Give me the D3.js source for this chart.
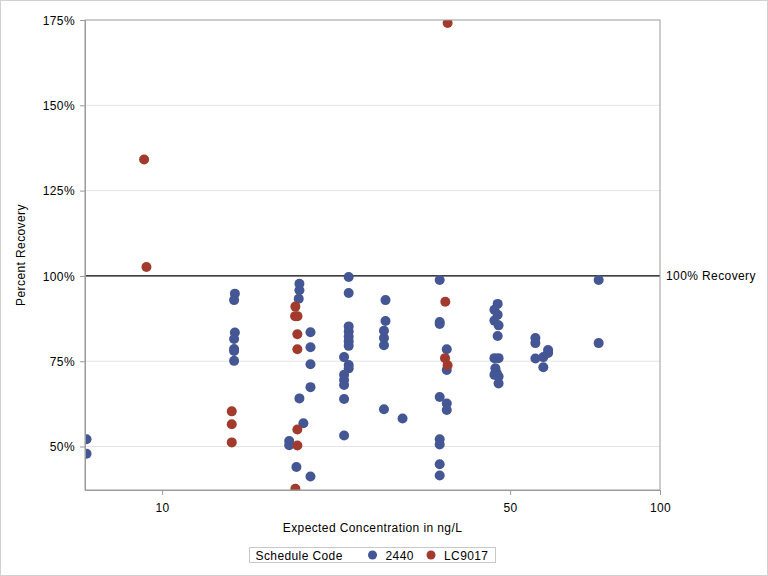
<!DOCTYPE html>
<html>
<head>
<meta charset="utf-8">
<script src="https://cdn.jsdelivr.net/npm/d3@7"></script>
<style>
  body { margin: 0; background: #fff; }
  svg text { font-family: "Liberation Sans", Arial, sans-serif; fill: #000; letter-spacing: 0.4px; }
</style>
</head>
<body>
<svg id="chart" width="768" height="576"></svg>
<script>
// schedule 2440
const conc2440 = [7.05, 7.05,
  14.0, 13.95, 14.0, 13.95, 13.95, 13.95, 13.95,
  18.87, 18.87, 18.81, 19.86, 19.86, 19.86, 19.86, 18.87, 19.22, 18.0, 18.0, 18.61, 19.86,
  23.7, 23.7, 23.7, 23.7, 23.7, 23.7, 23.7, 23.2, 23.7, 23.7, 23.2, 23.2, 23.2, 23.2, 23.2,
  28.1, 28.1, 27.9, 27.9, 27.9, 27.9, 30.4,
  36.1, 36.1, 36.1, 37.3, 37.3, 36.1, 37.3, 37.3, 36.1, 36.1, 36.1, 36.1,
  47.2, 46.5, 47.2, 46.5, 47.4, 47.2, 46.5, 47.4, 46.7, 47.0, 46.5, 47.4, 47.4,
  56.2, 56.2, 59.6, 59.6, 58.3, 56.2, 58.3, 75.3, 75.3];
const rec2440 = [52.1, 47.9,
  94.8, 92.9, 83.4, 81.5, 78.6, 78.0, 75.1,
  97.7, 95.8, 93.3, 83.5, 79.1, 74.1, 67.4, 64.1, 56.8, 51.6, 50.4, 44.0, 41.2,
  99.7, 95.0, 85.2, 83.7, 82.2, 80.8, 79.5, 76.2, 73.9, 72.9, 71.0, 69.5, 68.0, 63.9, 53.2,
  92.9, 86.8, 83.9, 81.8, 79.7, 60.9, 58.2,
  98.8, 86.5, 85.9, 78.5, 72.4, 64.5, 62.6, 60.7, 52.1, 50.6, 44.8, 41.5,
  91.8, 90.1, 88.6, 86.9, 85.5, 82.4, 75.9, 75.9, 72.9, 71.5, 71.0, 70.5, 68.5,
  81.8, 80.3, 78.3, 77.4, 76.2, 75.8, 73.2, 98.8, 80.3];

// schedule LC9017
const concLC = [9.2, 9.3, 13.8, 13.8, 13.8,
  18.52, 18.5, 18.7, 18.69, 18.69, 18.69, 18.69, 18.52,
  37.05, 37.0, 37.45, 37.45];
const recLC = [134.1, 102.6, 60.3, 56.5, 51.2,
  91.0, 88.2, 88.2, 82.9, 78.5, 55.0, 50.3, 37.6,
  92.4, 75.9, 73.8, 174.1];

const xTicks = [10, 50, 100];
const yTicks = [50, 75, 100, 125, 150, 175];
const refValue = 100;

const colors = {"2440": "#445694", "LC9017": "#A23A2E"};

let margin = {left: 85, right: 108, top: 20, bottom: 86};
let w = 768, h = 576;
let svg = d3.select('#chart');

// outer border
svg.append('rect')
  .attr('x', 0.5).attr('y', 0.5)
  .attr('width', w - 1).attr('height', h - 1)
  .attr('fill', 'none').attr('stroke', '#d0d0d0');

let x = d3.scaleLog().domain([7, 100]).range([margin.left, w - margin.right]);
let y = d3.scaleLinear().domain([37.25, 175]).range([h - margin.bottom, margin.top]);

// grid lines
svg.append('g').selectAll('line')
  .data(yTicks.filter(d => d !== refValue && d !== 175))
  .enter().append('line')
  .attr('x1', margin.left).attr('x2', w - margin.right)
  .attr('y1', d => y(d)).attr('y2', d => y(d))
  .attr('stroke', '#e4e4e4');

// reference line
svg.append('line')
  .attr('x1', margin.left).attr('x2', w - margin.right)
  .attr('y1', y(refValue)).attr('y2', y(refValue))
  .attr('stroke', '#000').attr('stroke-width', 1.2);
svg.append('text')
  .attr('x', w - margin.right + 6).attr('y', y(refValue) + 4.5)
  .attr('font-size', 12)
  .text('100% Recovery');

// points, clipped to the plot area
svg.append('clipPath').attr('id', 'plotclip')
  .append('rect')
  .attr('x', margin.left).attr('y', margin.top)
  .attr('width', w - margin.left - margin.right)
  .attr('height', h - margin.top - margin.bottom);

let pts = svg.append('g').attr('clip-path', 'url(#plotclip)');
pts.selectAll('.p2440')
  .data(conc2440.map((c, i) => [c, rec2440[i]]))
  .enter().append('circle')
  .attr('class', 'p2440')
  .attr('cx', d => x(d[0])).attr('cy', d => y(d[1]))
  .attr('r', 5)
  .attr('fill', colors["2440"]);
pts.selectAll('.pLC')
  .data(concLC.map((c, i) => [c, recLC[i]]))
  .enter().append('circle')
  .attr('class', 'pLC')
  .attr('cx', d => x(d[0])).attr('cy', d => y(d[1]))
  .attr('r', 5)
  .attr('fill', colors["LC9017"]);

// frame
svg.append('rect')
  .attr('x', margin.left).attr('y', margin.top)
  .attr('width', w - margin.left - margin.right)
  .attr('height', h - margin.top - margin.bottom)
  .attr('fill', 'none').attr('stroke', '#9a9a9a');

// axes
let xAxis = svg.append('g')
  .attr('transform', 'translate(0,' + (h - margin.bottom) + ')')
  .call(d3.axisBottom(x).tickValues(xTicks).tickFormat(d3.format('d')).tickSize(5).tickSizeOuter(0));
let yAxis = svg.append('g')
  .attr('transform', 'translate(' + margin.left + ',0)')
  .call(d3.axisLeft(y).tickValues(yTicks).tickFormat(d => d + '%').tickSize(5).tickSizeOuter(0));

[xAxis, yAxis].forEach(a => {
  a.select('.domain').attr('stroke', '#9a9a9a');
  a.selectAll('.tick line').attr('stroke', '#9a9a9a');
  a.selectAll('.tick text').attr('font-size', 12).attr('fill', '#000');
});
xAxis.selectAll('.tick text').attr('dy', '1.2em');
yAxis.selectAll('.tick text').attr('x', -10).attr('dy', '0.36em');

// axis titles
svg.append('text')
  .attr('x', (margin.left + w - margin.right) / 2).attr('y', 532)
  .attr('text-anchor', 'middle').attr('font-size', 12)
  .text('Expected Concentration in ng/L');
svg.append('text')
  .attr('transform', 'translate(25,' + ((margin.top + h - margin.bottom) / 2) + ') rotate(-90)')
  .attr('text-anchor', 'middle').attr('font-size', 12)
  .text('Percent Recovery');

// legend
let legend = svg.append('g').attr('transform', 'translate(249.5,547.5)');
legend.append('rect')
  .attr('width', 246).attr('height', 15)
  .attr('fill', 'none').attr('stroke', '#c8c8c8');
legend.append('text').attr('x', 6).attr('y', 12).attr('font-size', 12).text('Schedule Code');
let items = [["2440", 123], ["LC9017", 181.5]];
items.forEach(([name, lx]) => {
  legend.append('circle').attr('cx', lx).attr('cy', 7.5).attr('r', 4.5).attr('fill', colors[name]);
  legend.append('text').attr('x', lx + 13).attr('y', 12).attr('font-size', 12).text(name);
});
</script>
</body>
</html>
